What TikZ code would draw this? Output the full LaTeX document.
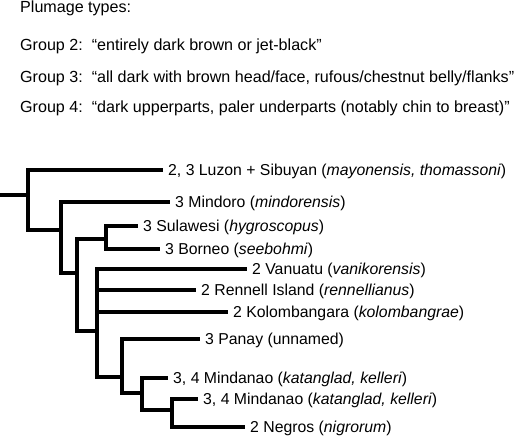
\documentclass[tikz,border=0pt]{standalone}
\usepackage{fontspec}
\setmainfont{Liberation Sans}
\usetikzlibrary{positioning}

\begin{document}
\begin{tikzpicture}[
    x=1pt, y=-1pt,
    font=\fontsize{16.1}{19}\selectfont,
    heading/.style={anchor=base west, inner sep=0pt},
    leaf/.style={anchor=west, inner xsep=5pt, inner ysep=0pt, text height=11.4pt, text depth=0pt, font=\fontsize{15.8}{19}\selectfont},
    branch/.style={line width=3.3pt}
]
\useasboundingbox (0,0) rectangle (520,437);

% plumage key
\node[heading] (key) at (20,12.5) {Plumage types:};
\node[heading] (grp2) at (20,50.5) {Group 2:\ \ “entirely dark brown or jet-black”};
\node[heading] (grp3) at (20,82) {Group 3:\ \ “all dark with brown head/face, rufous/chestnut belly/flanks”};
\node[heading] (grp4) at (20,112) {Group 4:\ \ “dark upperparts, paler underparts (notably chin to breast)”};

% internal nodes
\coordinate (stub) at (0,195);
\coordinate (n1) at (28,195);
\coordinate (n2) at (61,230);
\coordinate (n3) at (77,273);
\coordinate (n4) at (106,239);
\coordinate (n5) at (97,331);
\coordinate (n6) at (122,377);
\coordinate (n7) at (142,393);
\coordinate (n8) at (172,410);

% leaves
\node[leaf] (luzon) at (163,170) {2, 3 Luzon + Sibuyan (\textit{mayonensis, thomassoni})};
\node[leaf] (mindoro) at (170,202) {3 Mindoro (\textit{mindorensis})};
\node[leaf] (sulawesi) at (138,226) {3 Sulawesi (\textit{hygroscopus})};
\node[leaf] (borneo) at (160,249) {3 Borneo (\textit{seebohmi})};
\node[leaf] (vanuatu) at (247,269) {2 Vanuatu (\textit{vanikorensis})};
\node[leaf] (rennell) at (196,290) {2 Rennell Island (\textit{rennellianus})};
\node[leaf] (kolomb) at (228,312) {2 Kolombangara (\textit{kolombangrae})};
\node[leaf] (panay) at (200,339) {3 Panay (unnamed)};
\node[leaf] (mindanaoA) at (168,378) {3, 4 Mindanao (\textit{katanglad, kelleri})};
\node[leaf] (mindanaoB) at (198,399) {3, 4 Mindanao (\textit{katanglad, kelleri})};
\node[leaf] (negros) at (245,427) {2 Negros (\textit{nigrorum})};

% tree
\draw[branch] (stub) -- (n1);
\draw[branch] (n1) |- (luzon.west);
\draw[branch] (n1) |- (n2);
\draw[branch] (n2) |- (mindoro.west);
\draw[branch] (n2) |- (n3);
\draw[branch] (n3) |- (n4);
\draw[branch] (n3) |- (n5);
\draw[branch] (n4) |- (sulawesi.west);
\draw[branch] (n4) |- (borneo.west);
\draw[branch] (n5) |- (vanuatu.west);
\draw[branch] (n5) |- (rennell.west);
\draw[branch] (n5) |- (kolomb.west);
\draw[branch] (n5) |- (n6);
\draw[branch] (n6) |- (panay.west);
\draw[branch] (n6) |- (n7);
\draw[branch] (n7) |- (mindanaoA.west);
\draw[branch] (n7) |- (n8);
\draw[branch] (n8) |- (mindanaoB.west);
\draw[branch] (n8) |- (negros.west);

\end{tikzpicture}
\end{document}
